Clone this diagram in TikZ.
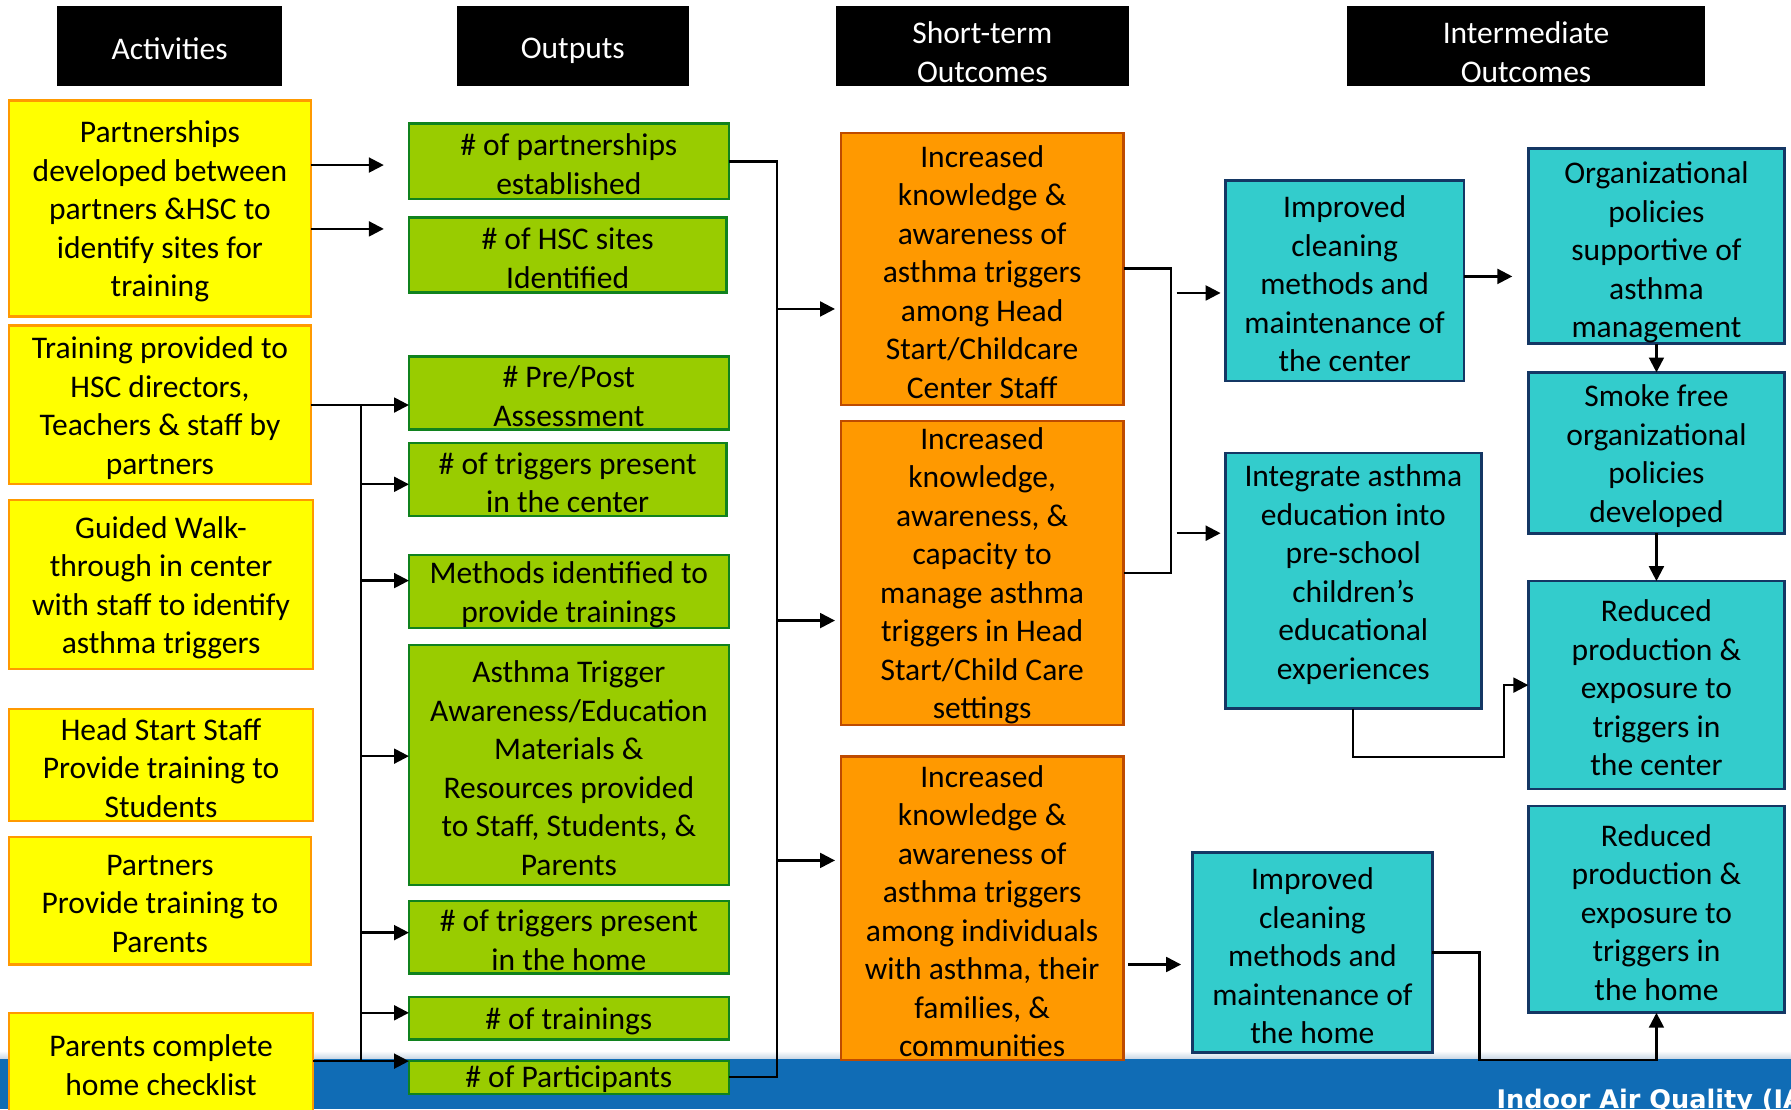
\documentclass[tikz,border=0pt]{standalone}
\usepackage{fontspec}
\setmainfont{Carlito}
\newfontfamily\footfont{DejaVu Sans}
\usetikzlibrary{arrows.meta,shadings}
\definecolor{yel}{RGB}{255,255,0}
\definecolor{yelb}{RGB}{255,153,0}
\definecolor{grn}{RGB}{153,204,0}
\definecolor{grnb}{RGB}{16,130,30}
\definecolor{org}{RGB}{255,153,0}
\definecolor{orgb}{RGB}{190,75,0}
\definecolor{tea}{RGB}{51,204,204}
\definecolor{teab}{RGB}{20,55,100}
\definecolor{barblue}{RGB}{16,108,181}
\definecolor{barlight}{RGB}{200,214,228}
\newcommand\mybox[8][-2.7pt]{%
  \node[#7, minimum width={#5-#3}, minimum height={#6-#4}] (#2) at ({(#3+#5)/2},{(#4+#6)/2}) {};
  \node[#7, draw=none, fill=none, yshift=#1] (#2-t) at (#2.center) {#8};}
\begin{document}
\begin{tikzpicture}[x=1pt,y=-1pt,
  base/.style={inner sep=0pt, outer sep=0pt, align=center, font=\fontsize{27.6}{33.7}\selectfont, text=black},
  act/.style={base, fill=yel, draw=yelb, line width=2pt},
  outp/.style={base, fill=grn, draw=grnb, line width=2pt},
  sto/.style={base, fill=org, draw=orgb, line width=2pt},
  imo/.style={base, fill=tea, draw=teab, line width=2.4pt},
  hdr/.style={base, fill=black, text=white},
  conn/.style={line width=2pt, draw=black},
  arr/.style={conn, -{Triangle[length=13pt,width=13pt]}},
]
\useasboundingbox (0,0) rectangle (1568,971);
\clip (0,0) rectangle (1568,971);
% footer bar
\shade[top color=white, bottom color=barlight] (0,920) rectangle (1568,927);
\fill[barblue] (0,927) rectangle (1568,971);
\node[anchor=base west, inner sep=0pt, text=white, font=\footfont\bfseries\fontsize{22.4}{26}\selectfont] (foot) at (1310,970.6) {Indoor Air Quality (IA};
% headers
\mybox[-3pt]{h1}{50}{5}{247}{75}{hdr}{Activities}
\mybox[-4.5pt]{h2}{400}{5}{603}{75}{hdr}{Outputs}
\mybox[-5.5pt]{h3}{732}{5}{988}{75}{hdr}{Short-term\\Outcomes}
\mybox[-5.5pt]{h4}{1179}{5}{1493}{75}{hdr}{Intermediate\\Outcomes}
% activities
\mybox{A1}{8}{88}{272}{277}{act}{Partnerships\\developed between\\partners \&HSC to\\identify sites for\\training}
\mybox{A2}{8}{285}{272}{424}{act}{Training provided to\\HSC directors,\\Teachers \& staff by\\partners}
\mybox{A3}{8}{438}{274}{585.5}{act}{Guided Walk-\\through in center\\with staff to identify\\asthma triggers}
\mybox{A4}{8}{620.5}{274}{718.8}{act}{Head Start Staff\\Provide training to\\Students}
\mybox{A5}{8}{732.6}{272}{844.4}{act}{Partners\\Provide training to\\Parents}
\mybox{A6}{8}{886.7}{274}{973}{act}{Parents complete\\home checklist}
% outputs
\mybox{O1}{358}{108}{638}{174}{outp}{\# of partnerships\\established}
\mybox{O2}{358}{190.4}{636}{256}{outp}{\# of HSC sites\\Identified}
\mybox{O3}{358}{312}{638}{376}{outp}{\# Pre/Post\\Assessment}
\mybox{O4}{358}{388}{636}{452}{outp}{\# of triggers present\\in the center}
\mybox{O5}{358}{486}{638}{550}{outp}{Methods identified to\\provide trainings}
\mybox{O6}{358}{564.7}{638}{774.6}{outp}{Asthma Trigger\\Awareness/Education\\Materials \&\\Resources provided\\to Staff, Students, \&\\Parents}
\mybox{O7}{358}{788.8}{638}{852.4}{outp}{\# of triggers present\\in the home}
\mybox{O8}{358}{873}{638}{910}{outp}{\# of trainings}
\mybox[-1.5pt]{O9}{358}{929}{638}{958}{outp}{\# of Participants}
% short-term outcomes
\mybox{S1}{736}{116.3}{983.7}{354.8}{sto}{Increased\\knowledge \&\\awareness of\\asthma triggers\\among Head\\Start/Childcare\\Center Staff}
\mybox{S2}{736}{368.3}{983.7}{634.8}{sto}{Increased\\knowledge,\\awareness, \&\\capacity to\\manage asthma\\triggers in Head\\Start/Child Care\\settings}
\mybox{S3}{736}{662.4}{983.7}{928}{sto}{Increased\\knowledge \&\\awareness of\\asthma triggers\\among individuals\\with asthma, their\\families, \&\\communities}
% intermediate outcomes
\mybox{I1}{1072.6}{158.2}{1281.8}{333.6}{imo}{Improved\\cleaning\\methods and\\maintenance of\\the center}
\mybox[5.5pt]{I2}{1072.6}{396.5}{1297}{620.5}{imo}{Integrate asthma\\education into\\pre-school\\children’s\\educational\\experiences}
\mybox{I3}{1044}{746.6}{1254}{921.6}{imo}{Improved\\cleaning\\methods and\\maintenance of\\the home}
\mybox[-5.5pt]{R1}{1338}{130}{1562.4}{301}{imo}{Organizational\\policies\\supportive of\\asthma\\management}
\mybox{R2}{1338}{326}{1562.4}{466.8}{imo}{Smoke free\\organizational\\policies\\developed}
\mybox{R3}{1338}{508.7}{1562.4}{690.8}{imo}{Reduced\\production \&\\exposure to\\triggers in\\the center}
\mybox{R4}{1338}{705.7}{1562.4}{886.7}{imo}{Reduced\\production \&\\exposure to\\triggers in\\the home}
% connectors: activities -> outputs
\coordinate (t1) at (336,144.5);
\coordinate (t2) at (336,200.4);
\draw[arr] (A1.east |- t1) -- (t1);
\draw[arr] (A1.east |- t2) -- (t2);
\coordinate (lbtop) at (316,354.6);
\coordinate (lbbot) at (316,929);
\draw[conn] (A2.east |- lbtop) -- (lbtop) -- (lbbot);
\draw[conn] (A6.east |- lbbot) -- (lbbot);
\draw[arr] (lbtop) -- (O3.west |- lbtop);
\draw[arr] (lbtop |- 0,424) -- (O4.west |- 0,424);
\draw[arr] (lbtop |- 0,508.3) -- (O5.west |- 0,508.3);
\draw[arr] (lbtop |- 0,662) -- (O6.west |- 0,662);
\draw[arr] (lbtop |- 0,816.5) -- (O7.west |- 0,816.5);
\draw[arr] (lbtop |- 0,886.7) -- (O8.west |- 0,886.7);
\draw[arr] (lbbot) -- (O9.west |- lbbot);
% outputs -> short-term
\coordinate (rbtop) at (680,141.3);
\coordinate (rbbot) at (680,943);
\draw[conn] (O1.east |- rbtop) -- (rbtop) -- (rbbot) -- (O9.east |- rbbot);
\draw[arr, shorten >=5pt] (rbtop |- 0,270.5) -- (S1.west |- 0,270.5);
\draw[arr, shorten >=5pt] (rbtop |- 0,543.3) -- (S2.west |- 0,543.3);
\draw[arr, shorten >=5pt] (rbtop |- 0,753.3) -- (S3.west |- 0,753.3);
% short-term -> intermediate
\coordinate (mb1) at (1025,235);
\coordinate (mb2) at (1025,501.4);
\draw[conn] (S1.east |- mb1) -- (mb1) -- (mb2) -- (S2.east |- mb2);
\draw[arr, shorten <=5pt, shorten >=4pt] (mb1 |- 0,256.5) -- (I1.west |- 0,256.5);
\draw[arr, shorten <=5pt, shorten >=4pt] (mb1 |- 0,466.8) -- (I2.west |- 0,466.8);
\draw[arr, shorten >=14pt] (I1.east |- 0,242) -- (R1.west |- 0,242);
\draw[arr] (R1.south) -- (R2.north);
\draw[arr] (R2.south) -- (R3.north);
\draw[arr] (I2.south) -- (I2.south |- 0,662.8) -- (1317,662.8) -- (1317,599.8) -- (R3.west |- 0,599.8);
\draw[arr, shorten <=4pt, shorten >=10pt] (S3.east |- 0,844.4) -- (I3.west |- 0,844.4);
\draw[arr] (I3.east |- 0,834) -- (1295.3,834) -- (1295.3,928) -- (R4.south |- 0,928) -- (R4.south);
\end{tikzpicture}
\end{document}
